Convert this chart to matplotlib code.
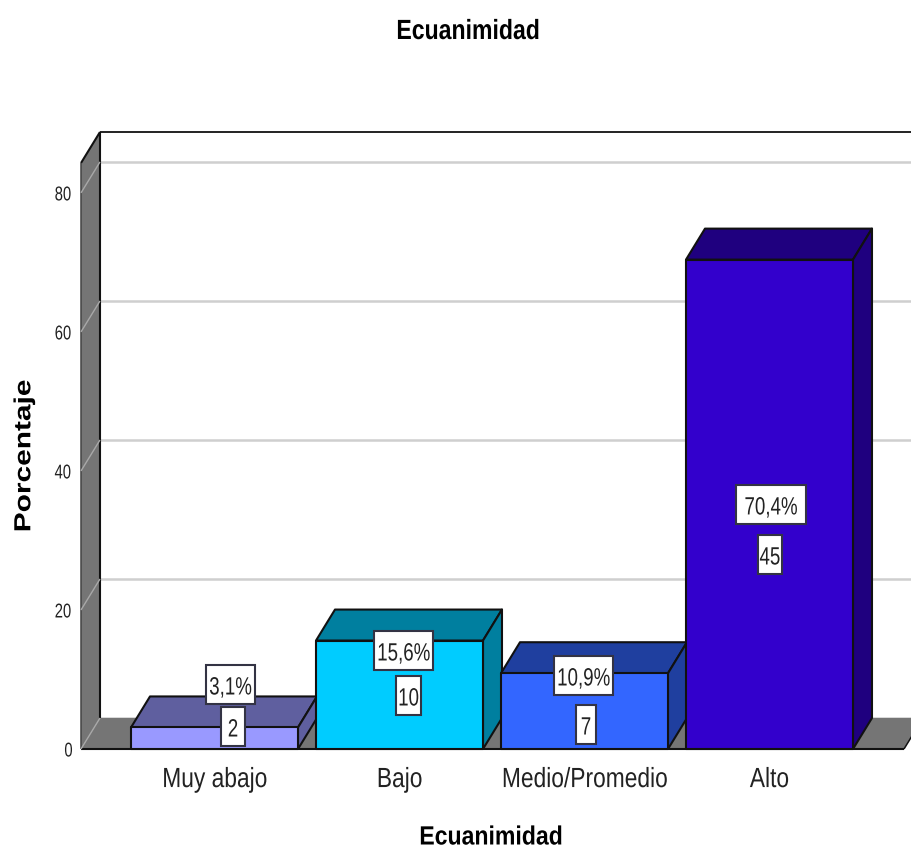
import matplotlib
matplotlib.use("Agg")
import matplotlib.pyplot as plt
from matplotlib.patches import Polygon, Rectangle
from matplotlib.patheffects import AbstractPathEffect
from matplotlib.transforms import Affine2D

categories = ["Muy abajo", "Bajo", "Medio/Promedio", "Alto"]
percentages = [3.1, 15.6, 10.9, 70.4]
percent_labels = ["3,1%", "15,6%", "10,9%", "70,4%"]
counts = [2, 10, 7, 45]
y_ticks = [0, 20, 40, 60, 80]
front_colors = ["#9999FF", "#00CCFF", "#3366FF", "#3300CC"]
side_colors = ["#5F5F9F", "#007F9F", "#1F3F9F", "#1F007F"]

W, H = 911, 850
PX_PER_CAT = 185
PX_PER_UNIT = 6.95
fig = plt.figure(figsize=(W / 100, H / 100), dpi=100, facecolor="white")
ax = fig.add_axes([81 / W, 1 - 749 / H, (W - 81) / W, (749 - 163) / H])
ax.set_xlim(-0.7216, 3.7649)
ax.set_ylim(0, 84.3)
for s in ax.spines.values():
    s.set_visible(False)

DX = 19 / PX_PER_CAT
DY = 31 / PX_PER_UNIT
BAR = 167 / PX_PER_CAT
X0, X1 = ax.get_xlim()
YTOP = ax.get_ylim()[1]
FLOOR_END = (904 - 214.5) / PX_PER_CAT
EDGE = "#111111"
WALL = "#757575"
INK = "#222222"
FONT = "Liberation Sans"


class Condense(AbstractPathEffect):
    """Narrow a text's glyphs horizontally about their own centre."""

    def __init__(self, factor):
        super().__init__()
        self.factor = factor

    def draw_path(self, renderer, gc, tpath, affine, rgbFace=None):
        box = tpath.get_extents(affine)
        cx = (box.x0 + box.x1) / 2
        squeeze = Affine2D().translate(-cx, 0).scale(self.factor, 1).translate(cx, 0)
        renderer.draw_path(gc, tpath, affine + squeeze, rgbFace)


def poly(pts, fc, ec=EDGE, lw=1.5, z=2):
    ax.add_patch(Polygon(pts, closed=True, fc=fc, ec=ec, lw=lw, zorder=z,
                         clip_on=False, joinstyle="round"))


def line(xs, ys, color=EDGE, lw=1.5, z=2):
    ax.plot(xs, ys, color=color, lw=lw, zorder=z, clip_on=False, solid_capstyle="butt")


# Back-plane gridlines
for t in y_ticks:
    line([X0 + DX, X1], [t + DY, t + DY], color="#CFCFCF", lw=1.8, z=1)
line([X0 + DX, X1], [YTOP + DY, YTOP + DY], lw=1.3)

# Floor and left wall
poly([(X0, 0), (X0 + DX, DY), (FLOOR_END + DX, DY), (FLOOR_END, 0)], WALL, ec="none", lw=0)
line([X0, FLOOR_END], [0, 0])
line([FLOOR_END, FLOOR_END + DX], [0, DY], lw=1.1)
poly([(X0, 0), (X0 + DX, DY), (X0 + DX, YTOP + DY), (X0, YTOP)], WALL, ec="none", lw=0)
line([X0 + DX, X0 + DX], [DY, YTOP + DY], lw=1.5)
line([X0, X0 + DX], [YTOP, YTOP + DY], lw=1.5)
line([X0, X0], [0, YTOP], color="#444444", lw=1.1)
for t in y_ticks:
    line([X0, X0 + DX], [t, t + DY], color="#A8A8A8", lw=1, z=3)

# Extruded bars
for i, (v, fc, sc) in enumerate(zip(percentages, front_colors, side_colors)):
    l, r = i - BAR / 2, i + BAR / 2
    poly([(l, v), (l + DX, v + DY), (r + DX, v + DY), (r, v)], sc, z=4 + i)
    poly([(r, 0), (r + DX, DY), (r + DX, v + DY), (r, v)], sc, z=4 + i)
    poly([(l, 0), (r, 0), (r, v), (l, v)], fc, z=4 + i)

# Value boxes, placed in pixel offsets from each bar's centre and the baseline
pct_centres = [(16, 64), (4, 98), (-1, 73), (1.5, 244)]
pct_widths = [49, 59, 59, 70]
cnt_centres = [(18.5, 22), (9, 53), (1.5, 24), (0.5, 194)]
cnt_widths = [24, 25, 20, 24]
BOX_H = 39


def value_box(i, centre, width, label):
    x = i + centre[0] / PX_PER_CAT
    y = centre[1] / PX_PER_UNIT
    w = width / PX_PER_CAT
    h = BOX_H / PX_PER_UNIT
    ax.add_patch(Rectangle((x - w / 2, y - h / 2), w, h, fc="white", ec="#333344", lw=1.5, zorder=10))
    t = ax.text(x, y, label, ha="center", va="center_baseline", fontsize=18, family=FONT,
                color=INK, zorder=11)
    t.set_path_effects([Condense(0.75)])


line([pct_centres[0][0] / PX_PER_CAT] * 2, [1, 6], z=9, lw=1)
for i in range(4):
    value_box(i, cnt_centres[i], cnt_widths[i], str(counts[i]))
    value_box(i, pct_centres[i], pct_widths[i], percent_labels[i])

# Axis tick labels
ax.set_xticks(range(4), categories, family=FONT, fontsize=20, color=INK)
ax.set_yticks(y_ticks, y_ticks, family=FONT, fontsize=14.4, color=INK)
ax.tick_params(length=0)
ax.tick_params(axis="x", pad=13)
ax.tick_params(axis="y", pad=5)
for lab in ax.get_xticklabels():
    lab.set_path_effects([Condense(0.82)])
for lab in ax.get_yticklabels():
    lab.set_path_effects([Condense(0.74)])

# Title and axis titles
for px, py, size in [(468, 29, 20), (491, 835, 19)]:
    t = fig.text(px / W, 1 - py / H, "Ecuanimidad", ha="center", va="center_baseline",
                 fontsize=size, fontweight="bold", family=FONT, color="black")
    t.set_path_effects([Condense(0.83 * 20 / size)])
t = fig.text(24 / W, 1 - 456 / H, "Porcentaje", ha="center", va="center", rotation=90,
             fontsize=21.5, fontweight="bold", family=FONT, color="black")
t.set_path_effects([Condense(0.78)])

fig.savefig("out.png", dpi=100)
